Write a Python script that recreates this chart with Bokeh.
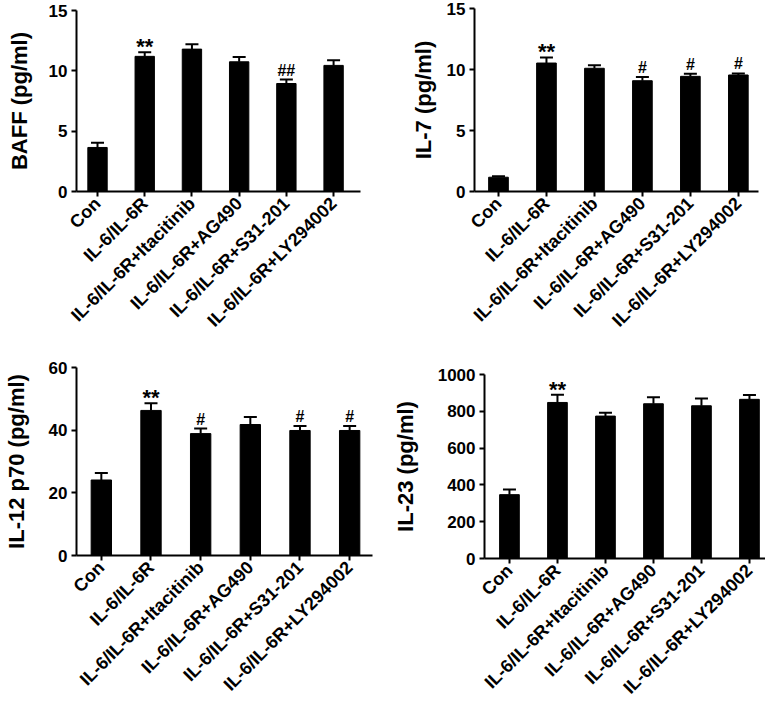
import math
from bokeh.plotting import figure
from bokeh.layouts import column, row
from bokeh.models import Range1d, FixedTicker, Whisker, ColumnDataSource, TeeHead
from bokeh.core.properties import value
from bokeh.embed import file_html
from bokeh.resources import INLINE

groups = ["Con", "IL-6/IL-6R", "IL-6/IL-6R+Itacitinib", "IL-6/IL-6R+AG490",
          "IL-6/IL-6R+S31-201", "IL-6/IL-6R+LY294002"]

baff_mean = [3.65, 11.2, 11.8, 10.75, 8.95, 10.45]
baff_err = [0.4, 0.35, 0.4, 0.4, 0.33, 0.42]
baff_sig = ["", "**", "", "", "##", ""]
baff_ticks = [0, 5, 10, 15]

il7_mean = [1.17, 10.53, 10.1, 9.08, 9.44, 9.55]
il7_err = [0.08, 0.46, 0.25, 0.3, 0.21, 0.13]
il7_sig = ["", "**", "", "#", "#", "#"]
il7_ticks = [0, 5, 10, 15]

il12_mean = [24.1, 46.3, 38.9, 41.8, 39.9, 39.9]
il12_err = [2.2, 2.3, 1.6, 2.4, 1.4, 1.4]
il12_sig = ["", "**", "#", "", "#", "#"]
il12_ticks = [0, 20, 40, 60]

il23_mean = [347, 848, 774, 841, 830, 865]
il23_err = [28, 42, 18, 35, 40, 23]
il23_sig = ["", "**", "", "", "", ""]
il23_ticks = [0, 200, 400, 600, 800, 1000]

FONT = "Liberation Sans"


def panel(ylabel, mean, err, sig, ticks, borders, frame, xr, label_standoff):
    bl, bt, br, bb = borders
    fw, fh = frame
    xs = list(range(len(groups)))
    upper = [m + e for m, e in zip(mean, err)]
    src = ColumnDataSource(dict(x=xs, mean=mean, upper=upper))
    p = figure(frame_width=fw, frame_height=fh,
               min_border_left=bl, min_border_top=bt, min_border_right=br,
               min_border_bottom=bb,
               x_range=Range1d(*xr), y_range=Range1d(ticks[0], ticks[-1]),
               output_backend="svg", toolbar_location=None,
               background_fill_color="white", border_fill_color="white")
    p.outline_line_color = None
    p.grid.visible = False

    p.vbar(x="x", top="mean", bottom=0, width=0.41, source=src,
           fill_color="black", line_color="black")
    w = Whisker(source=src, base="x", upper="upper", lower="mean",
                line_width=2, line_color="black",
                upper_head=TeeHead(size=13, line_width=2, line_color="black"),
                lower_head=None)
    p.add_layout(w)

    star_idx = [i for i, s in enumerate(sig) if s.startswith("*")]
    hash_idx = [i for i, s in enumerate(sig) if s.startswith("#")]
    star_src = ColumnDataSource(dict(x=[xs[i] for i in star_idx],
                                     y=[upper[i] for i in star_idx],
                                     t=[sig[i] for i in star_idx]))
    hash_src = ColumnDataSource(dict(x=[xs[i] for i in hash_idx],
                                     y=[upper[i] for i in hash_idx],
                                     t=[sig[i] for i in hash_idx]))
    p.text(x="x", y="y", text="t", source=star_src, text_align="center",
           text_baseline="bottom", y_offset=7, text_font=value(FONT),
           text_font_style="bold", text_font_size="22px", text_color="black")
    p.text(x="x", y="y", text="t", source=hash_src, text_align="center",
           text_baseline="bottom", y_offset=-1, text_font=value(FONT),
           text_font_style="bold", text_font_size="16px", text_color="black")

    p.xaxis.ticker = FixedTicker(ticks=xs)
    p.xaxis.major_label_overrides = {i: g for i, g in enumerate(groups)}
    p.xaxis.major_label_orientation = math.pi / 4
    p.yaxis.ticker = FixedTicker(ticks=ticks)
    p.yaxis.axis_label = ylabel
    p.yaxis.axis_label_standoff = label_standoff
    p.yaxis.axis_label_text_font = FONT
    p.yaxis.axis_label_text_font_style = "bold"
    p.yaxis.axis_label_text_font_size = "22px"
    p.yaxis.axis_label_text_color = "black"
    for ax in (p.xaxis, p.yaxis):
        ax.axis_line_width = 2
        ax.axis_line_color = "black"
        ax.major_tick_line_width = 2
        ax.major_tick_line_color = "black"
        ax.major_tick_out = 5
        ax.major_tick_in = 0
        ax.minor_tick_line_color = None
        ax.major_label_text_font = FONT
        ax.major_label_text_font_style = "bold"
        ax.major_label_text_color = "black"
        ax.major_label_standoff = 4
    p.yaxis.major_label_text_font_size = "17px"
    p.xaxis.major_label_text_font_size = "18px"
    return p


p1 = panel("BAFF (pg/ml)", baff_mean, baff_err, baff_sig, baff_ticks,
           (76, 10, 20, 149), (284, 181), (-0.445, 5.57), 14)
p2 = panel("IL-7 (pg/ml)", il7_mean, il7_err, il7_sig, il7_ticks,
           (94, 8, 7, 149), (284, 183), (-0.5, 5.42), 8)
p3 = panel("IL-12 p70 (pg/ml)", il12_mean, il12_err, il12_sig, il12_ticks,
           (67, 27, 17, 143), (296, 188), (-0.5, 5.46), 17)
p4 = panel("IL-23 (pg/ml)", il23_mean, il23_err, il23_sig, il23_ticks,
           (94, 34, 3, 140), (288, 184), (-0.52, 5.48), 17)

layout = column(row(column(p1), column(p2)), row(column(p3), column(p4)))
open("out.html", "w").write(file_html(layout, INLINE))
